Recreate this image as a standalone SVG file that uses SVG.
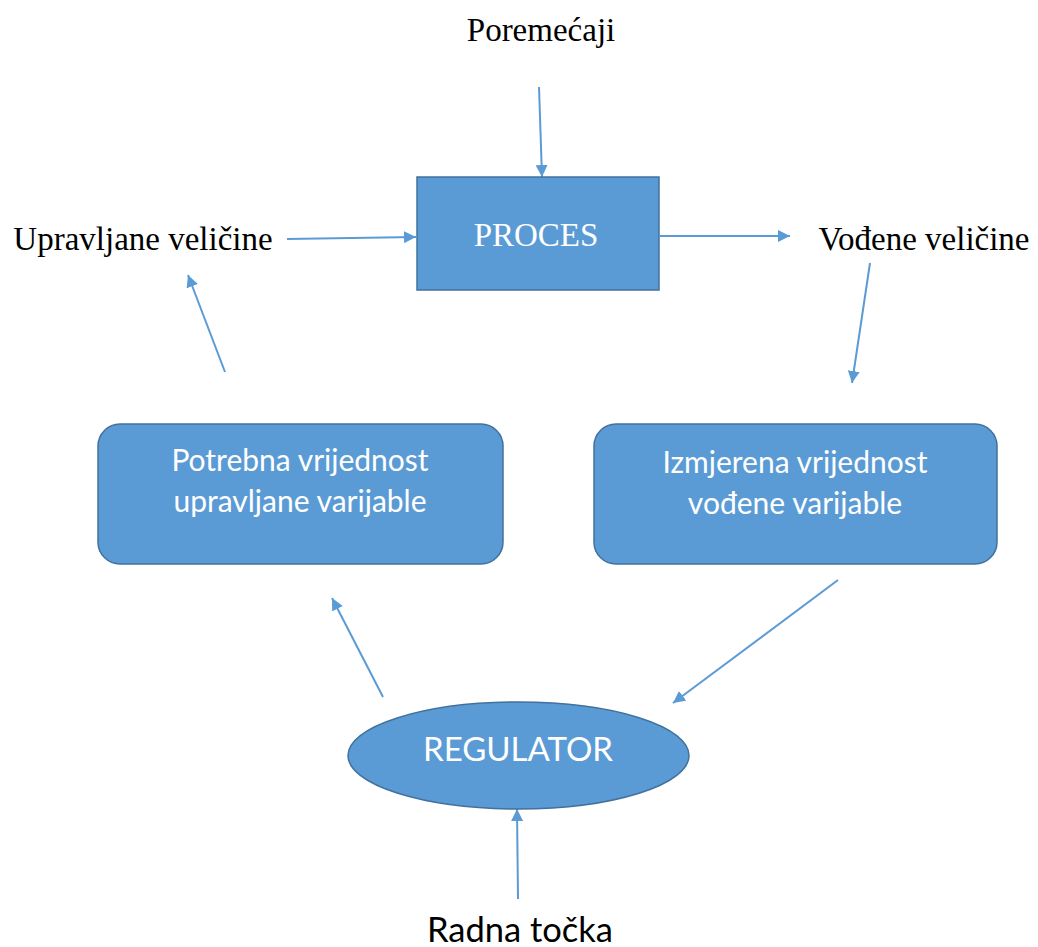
<svg xmlns="http://www.w3.org/2000/svg" width="1038" height="947" viewBox="0 0 1038 947">
<style>
.shape{fill:#5B9BD5;stroke:#41719C;stroke-width:1.5}
.conn{stroke:#5B9BD5;stroke-width:2;fill:none;marker-end:url(#ah)}
.serif{font-family:"Liberation Serif",serif;fill:#000;font-size:33px}
.wserif{font-family:"Liberation Serif",serif;fill:#fff;font-size:33px}
.sans{font-family:Lato,"Liberation Sans",sans-serif;fill:#fff;font-size:30px}
.bsans{font-family:Lato,"Liberation Sans",sans-serif;fill:#000;font-size:34.5px}
</style>
<defs>
<marker id="ah" viewBox="0 0 10 10" refX="10" refY="5" markerWidth="6" markerHeight="6" markerUnits="strokeWidth" orient="auto">
<path d="M0,0 L10,5 L0,10 z" fill="#5B9BD5"/>
</marker>
</defs>
<rect width="1038" height="947" fill="#fff"/>
<g id="connectors">
<line class="conn" x1="539" y1="87" x2="542" y2="177"/>
<line class="conn" x1="287" y1="239" x2="416" y2="237"/>
<line class="conn" x1="660" y1="236" x2="790" y2="236"/>
<line class="conn" x1="870" y1="263" x2="852" y2="383"/>
<line class="conn" x1="838" y1="580" x2="673" y2="703"/>
<line class="conn" x1="383" y1="697" x2="332" y2="598"/>
<line class="conn" x1="225" y1="372" x2="188" y2="275"/>
<line class="conn" x1="518" y1="899" x2="517" y2="809"/>
</g>
<g id="poremecaji"><text class="serif" x="541" y="41" text-anchor="middle">Poremećaji</text></g>
<g id="upravljane"><text class="serif" x="143" y="250" text-anchor="middle">Upravljane veličine</text></g>
<g id="vodjene"><text class="serif" x="924" y="250" text-anchor="middle">Vođene veličine</text></g>
<g id="proces">
<rect class="shape" x="417" y="177" width="242" height="113"/>
<text class="wserif" x="536" y="246" text-anchor="middle">PROCES</text>
</g>
<g id="potrebna">
<rect class="shape" x="98" y="424" width="405" height="140" rx="22"/>
<text class="sans" x="300" y="471" text-anchor="middle">Potrebna vrijednost</text>
<text class="sans" x="300" y="512" text-anchor="middle">upravljane varijable</text>
</g>
<g id="izmjerena">
<rect class="shape" x="594" y="424" width="403" height="140" rx="22"/>
<text class="sans" x="795" y="473" text-anchor="middle">Izmjerena vrijednost</text>
<text class="sans" x="795" y="514" text-anchor="middle">vođene varijable</text>
</g>
<g id="regulator">
<ellipse class="shape" cx="518.5" cy="755.5" rx="170.5" ry="53.5"/>
<text class="sans" x="518" y="761" text-anchor="middle" style="font-size:33px">REGULATOR</text>
</g>
<g id="radna"><text class="bsans" x="520" y="942" text-anchor="middle">Radna točka</text></g>
</svg>
